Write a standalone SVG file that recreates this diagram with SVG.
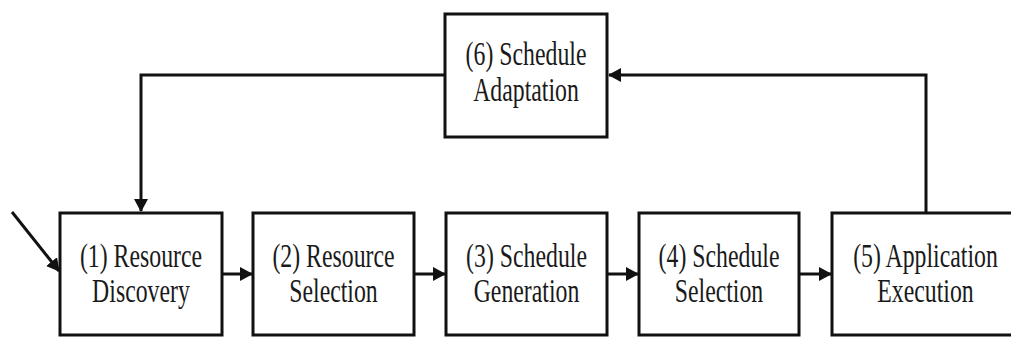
<svg xmlns="http://www.w3.org/2000/svg" width="1011" height="338" viewBox="0 0 1011 338">
<style>
.box{fill:#fff;stroke:#111;stroke-width:3}
.lbl{font-family:'Liberation Serif','Times New Roman',serif;font-size:34px;fill:#1a1a1a;text-anchor:middle}
.conn{fill:none;stroke:#111;stroke-width:3}
</style>
<defs>
<marker id="ah" viewBox="0 0 13 14" refX="12" refY="7" markerWidth="13" markerHeight="14" markerUnits="userSpaceOnUse" orient="auto">
<path d="M0,0 L13,7 L0,14 Z" fill="#111"/>
</marker>
</defs>
<rect width="1011" height="338" fill="#fff"/>
<g id="connectors">
<line class="conn" x1="12" y1="212" x2="59" y2="271" marker-end="url(#ah)"/>
<line class="conn" x1="222" y1="274" x2="252" y2="274" marker-end="url(#ah)"/>
<line class="conn" x1="415" y1="274" x2="445" y2="274" marker-end="url(#ah)"/>
<line class="conn" x1="608" y1="274" x2="638" y2="274" marker-end="url(#ah)"/>
<line class="conn" x1="800" y1="274" x2="831" y2="274" marker-end="url(#ah)"/>
<polyline class="conn" points="926,212 926,75 609,75" marker-end="url(#ah)"/>
<polyline class="conn" points="445,75 141,75 141,211" marker-end="url(#ah)"/>
</g>
<g id="n1">
<rect class="box" x="60" y="213" width="162" height="122"/>
<text class="lbl" transform="translate(141,0) scale(0.7,1)"><tspan x="0" y="267">(1) Resource</tspan><tspan x="0" y="302">Discovery</tspan></text>
</g>
<g id="n2">
<rect class="box" x="253" y="213" width="161" height="122"/>
<text class="lbl" transform="translate(333.5,0) scale(0.7,1)"><tspan x="0" y="267">(2) Resource</tspan><tspan x="0" y="302">Selection</tspan></text>
</g>
<g id="n3">
<rect class="box" x="446" y="213" width="161" height="122"/>
<text class="lbl" transform="translate(526.5,0) scale(0.7,1)"><tspan x="0" y="267">(3) Schedule</tspan><tspan x="0" y="302">Generation</tspan></text>
</g>
<g id="n4">
<rect class="box" x="639" y="213" width="160" height="122"/>
<text class="lbl" transform="translate(719,0) scale(0.7,1)"><tspan x="0" y="267">(4) Schedule</tspan><tspan x="0" y="302">Selection</tspan></text>
</g>
<g id="n5">
<rect class="box" x="832" y="213" width="190" height="122"/>
<text class="lbl" transform="translate(925.5,0) scale(0.7,1)"><tspan x="0" y="267">(5) Application</tspan><tspan x="0" y="302">Execution</tspan></text>
</g>
<g id="n6">
<rect class="box" x="445" y="14" width="162" height="123"/>
<text class="lbl" transform="translate(526,0) scale(0.7,1)"><tspan x="0" y="65">(6) Schedule</tspan><tspan x="0" y="101">Adaptation</tspan></text>
</g>
</svg>
